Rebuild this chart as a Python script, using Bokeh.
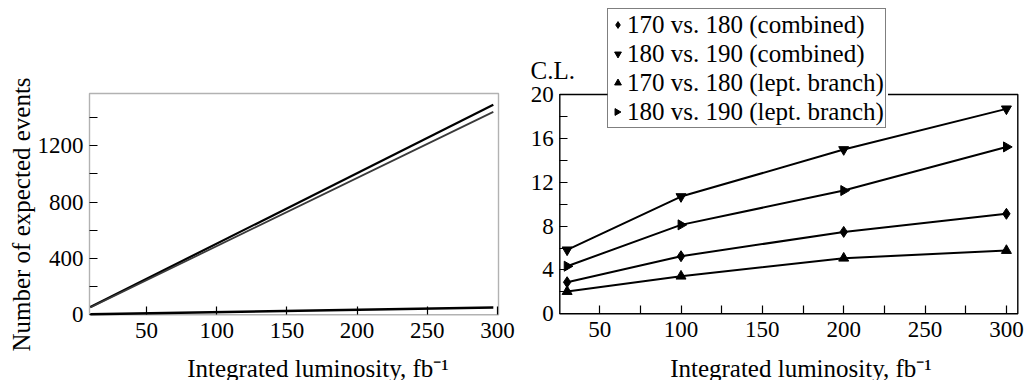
import math
from bokeh.plotting import figure
from bokeh.layouts import row
from bokeh.models import (Range1d, FixedTicker, Legend, LegendItem, BoxAnnotation, Label)
from bokeh.embed import file_html
from bokeh.resources import INLINE

# ---- left panel data ----
lumi_lines = [10, 297]
events_a = [55, 1490]
events_b = [52, 1440]
events_c = [4, 52]
left_yticks = [0, 400, 800, 1200]
left_yminor = [200, 600, 1000, 1400]
xticks = [50, 100, 150, 200, 250, 300]
xminor = [75, 125, 175, 225, 275]

# ---- right panel data ----
lumi = [30, 100, 200, 300]
cl_170_180_comb = [2.88, 5.25, 7.47, 9.12]
cl_180_190_comb = [5.83, 10.69, 14.98, 18.69]
cl_170_180_lept = [2.03, 3.43, 5.07, 5.77]
cl_180_190_lept = [4.34, 8.11, 11.24, 15.22]
right_yticks = [0, 4, 8, 12, 16, 20]
right_yminor = [2, 6, 10, 14, 18]
labels = ["170 vs. 180 (combined)", "180 vs. 190 (combined)",
          "170 vs. 180 (lept. branch)", "180 vs. 190 (lept. branch)"]
xlabel = "Integrated luminosity, fb\u207b\u00b9"
ylabel_left = "Number of expected events"
ylabel_right = "C.L."

FONT = "Liberation Serif"
TICK_FS = "23px"
LAB_FS = "25px"
FIG_H = 380
BOX_LW = 1.4


def framed_figure(width, box, xr, yr, draw_box=True):
    """Figure whose drawing frame fills the whole canvas; the visible plot box
    (box = left, right, top, bottom in canvas pixels) is drawn explicitly so that
    texts and the legend outside the box are not clipped."""
    L, R, T, B = box
    xpp = (xr[1] - xr[0]) / (R - L)
    ypp = (yr[1] - yr[0]) / (B - T)
    x0 = xr[0] - L * xpp
    x1 = xr[1] + (width - R) * xpp
    y0 = yr[0] - (FIG_H - B) * ypp
    y1 = yr[1] + T * ypp
    p = figure(width=width, height=FIG_H, output_backend="svg", toolbar_location=None,
               x_range=Range1d(x0, x1), y_range=Range1d(y0, y1), min_border=0)
    p.min_border_left = p.min_border_right = p.min_border_top = p.min_border_bottom = 0
    if "frame_align" in p.properties():
        p.frame_align = False
    p.background_fill_color = "white"
    p.border_fill_color = "white"
    p.outline_line_color = None
    p.grid.visible = False
    p.xaxis.fixed_location = yr[0]
    p.yaxis.fixed_location = xr[0]
    for ax in (p.xaxis[0], p.yaxis[0]):
        ax.axis_line_color = None
        ax.major_tick_in = 8
        ax.major_tick_out = 0
        ax.minor_tick_in = 8
        ax.minor_tick_out = 0
        ax.major_tick_line_color = "black"
        ax.minor_tick_line_color = "black"
        ax.major_tick_line_width = 1.2
        ax.minor_tick_line_width = 1.2
        ax.major_label_text_font = FONT
        ax.major_label_text_font_size = TICK_FS
        ax.major_label_text_color = "black"
    p.xaxis.major_label_standoff = 8
    p.yaxis.major_label_standoff = 6
    if draw_box:
        p.add_layout(BoxAnnotation(left=xr[0], right=xr[1], bottom=yr[0], top=yr[1],
                                   fill_alpha=0, line_color="black", line_width=BOX_LW))

    def px_x(px):
        return x0 + px * xpp

    def px_y(py):
        return y1 - py * ypp
    return p, px_x, px_y


def add_text(p, x, y, text, align="center", angle=0.0):
    p.add_layout(Label(x=x, y=y, text=text, angle=angle, text_font=FONT,
                       text_font_size=LAB_FS, text_color="black",
                       text_align=align, text_baseline="middle"))


# ---------- left figure ----------
p1, lx, ly = framed_figure(520, (89, 498, 93, 314.3), (9.4, 300.7), (0, 1570))
p1.xaxis.ticker = FixedTicker(ticks=xticks, minor_ticks=[])
p1.yaxis.ticker = FixedTicker(ticks=left_yticks, minor_ticks=left_yminor)
p1.line(lumi_lines, events_a, line_color="black", line_width=2.2)
p1.line(lumi_lines, events_b, line_color="#3a3a3a", line_width=1.8)
p1.line(lumi_lines, events_c, line_color="black", line_width=2.6)
add_text(p1, lx(317.5), ly(367.5), xlabel)
add_text(p1, lx(20.5), ly(214), ylabel_left, angle=math.pi / 2)

# ---------- right figure ----------
RX, RY = (25.5, 307), (0, 20)
p2, rx, ry = framed_figure(510, (39.3, 497.3, 94, 313.3), RX, RY, draw_box=False)
p2.xaxis.ticker = FixedTicker(ticks=xticks, minor_ticks=xminor)
p2.yaxis.ticker = FixedTicker(ticks=right_yticks, minor_ticks=right_yminor)
add_text(p2, rx(280.5), ry(367.5), xlabel)
add_text(p2, rx(10), ry(69.5), ylabel_right, align="left")

# legend geometry (canvas pixels of the right figure)
LEG_LEFT, LEG_RIGHT, LEG_TOP, LEG_PAD, ROW_H, GLYPH_W = 87, 367.5, 9, 1, 29, 17

# plot box; its top edge is interrupted where the legend overlaps it
p2.multi_line(
    xs=[[rx(LEG_LEFT), RX[0], RX[0], RX[1], RX[1], rx(LEG_RIGHT)]],
    ys=[[RY[1], RY[1], RY[0], RY[0], RY[1], RY[1]]],
    line_color="black", line_width=BOX_LW)

series = [
    (cl_170_180_comb, "diamond", 11, 0.0),
    (cl_180_190_comb, "inverted_triangle", 10, 0.0),
    (cl_170_180_lept, "triangle", 10, 0.0),
    (cl_180_190_lept, "triangle", 10, -math.pi / 2),
]
items = []
for (vals, mk, sz, ang), lab in zip(series, labels):
    p2.line(lumi, vals, line_color="black", line_width=2)
    r = p2.scatter(lumi, vals, marker=mk, size=sz, angle=ang,
                   fill_color="black", line_color="black")
    if ang != 0.0:
        # legend glyphs are never rotated: use an invisible twin in the legend
        r = p2.scatter(lumi, vals, marker=mk, size=sz, fill_alpha=0, line_alpha=0)
    items.append(LegendItem(label=lab, renderers=[r]))

legend = Legend(items=items, location=(LEG_LEFT, FIG_H - LEG_TOP - (4 * ROW_H + 2 * LEG_PAD + 1)),
                orientation="vertical")
legend.label_text_font = FONT
legend.label_text_font_size = LAB_FS
legend.label_text_color = "black"
legend.label_standoff = 1
legend.glyph_width = GLYPH_W
legend.glyph_height = ROW_H
legend.label_height = ROW_H
legend.spacing = 0
legend.padding = LEG_PAD
legend.margin = 0
legend.border_line_color = "black"
legend.border_line_width = 1.2
legend.background_fill_alpha = 0.0
p2.add_layout(legend)

# right-pointing key for the last legend entry
p2.scatter([rx(LEG_LEFT + LEG_PAD + GLYPH_W / 2)],
           [ry(LEG_TOP + LEG_PAD + 3 * ROW_H + ROW_H / 2)],
           marker="triangle", size=0.4 * GLYPH_W, angle=-math.pi / 2,
           fill_color="black", line_color="black")

layout = row(p1, p2)
open("out.html", "w").write(file_html(layout, INLINE))
